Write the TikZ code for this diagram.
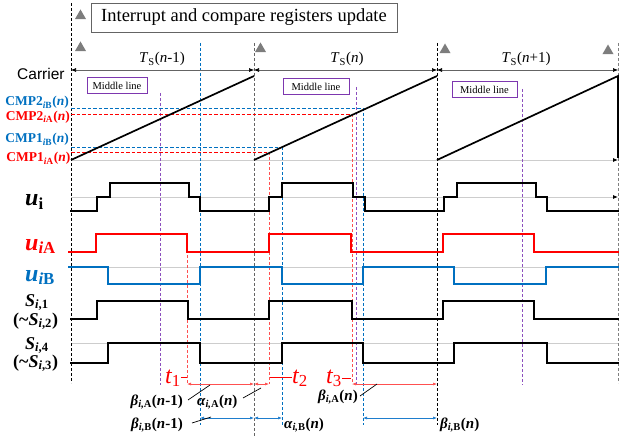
\documentclass[tikz,border=0pt]{standalone}
\usepackage{fontspec}
\setmainfont{Liberation Serif}
\newfontfamily\sansf{Liberation Sans}
\usetikzlibrary{arrows.meta,shapes.geometric}
\definecolor{myred}{RGB}{255,0,0}
\definecolor{myblue}{RGB}{0,112,192}
\definecolor{mypurple}{RGB}{125,55,175}
\definecolor{lpurple}{RGB}{140,80,190}
\definecolor{lred}{RGB}{255,80,80}
\definecolor{lblue}{RGB}{30,125,205}
\definecolor{axisgray}{RGB}{205,205,205}
\definecolor{dgray}{RGB}{100,100,100}
\definecolor{trigray}{RGB}{125,125,125}
\tikzset{
  wave/.style={line width=1.8pt, line join=miter, line cap=rect},
  carrier/.style={line width=1.7pt},
  vdash/.style={line width=0.7pt, dash pattern=on 3pt off 2pt},
  hdash/.style={line width=0.8pt, dash pattern=on 3.5pt off 2pt},
  axisline/.style={axisgray, line width=0.8pt},
  axisarrow/.style={axisgray, line width=0.8pt, -{Latex[length=5pt,width=4pt,black]}},
  per/.style={dgray, line width=0.6pt, {Latex[length=5pt,width=4pt,black]}-{Latex[length=5pt,width=4pt,black]}},
  midbox/.style={draw=mypurple, line width=1pt, inner sep=1pt, minimum height=16pt, font=\fontsize{10.5}{12}\selectfont},
  dimred/.style={lred, line width=0.6pt, {Latex[length=4pt,width=3pt]}-{Latex[length=4pt,width=3pt]}},
  dimblue/.style={lblue, line width=0.6pt, {Latex[length=4pt,width=3pt]}-{Latex[length=4pt,width=3pt]}},
  leader/.style={black, line width=0.7pt},
  tri/.style={regular polygon, regular polygon sides=3, fill=trigray, minimum size=13pt, inner sep=0pt},
  cmplab/.style={anchor=base east, inner sep=0pt, font=\fontsize{13.5}{14}\selectfont\bfseries},
  siglab/.style={anchor=base west, inner sep=0pt, font=\fontsize{18}{18}\selectfont\bfseries\itshape},
  ulab/.style={anchor=base west, inner sep=0pt, font=\fontsize{24}{24}\selectfont\bfseries\itshape},
  tslab/.style={anchor=base, inner sep=0pt, font=\fontsize{15}{15}\selectfont},
  btlab/.style={inner sep=0pt, font=\fontsize{15}{16}\selectfont\bfseries\itshape},
  tlab/.style={anchor=base west, inner sep=0pt, myred, font=\fontsize{24}{24}\selectfont\itshape},
}
\begin{document}
\begin{tikzpicture}[x=1pt,y=-1pt]
\useasboundingbox (0,0) rectangle (620,438);

% ---- light axis lines
\draw[axisarrow] (71,160) -- (618,160);
\draw[axisarrow] (71,197) -- (618,197);
\draw[axisline] (71,267) -- (618,267);
\draw[axisline] (71,343) -- (618,343);

% ---- period boundaries
\draw[vdash, black] (71,3) -- (71,383);
\draw[vdash, dgray] (254,43) -- (254,438);
\draw[vdash, black] (437,43) -- (437,425);
\draw[vdash, gray] (618,43) -- (618,383);

% ---- middle lines
\draw[vdash, lpurple] (160,93) -- (160,385);
\draw[vdash, lpurple] (356,87) -- (356,385);
\draw[vdash, lpurple] (522,89) -- (522,385);

% ---- compare levels
\draw[hdash, myblue] (71,108) -- (363,108);
\draw[hdash, myred] (71,114) -- (352,114);
\draw[hdash, myblue] (71,147) -- (282,147);
\draw[hdash, myred] (71,152) -- (269,152);

% ---- vertical switching instants
\draw[vdash, myblue] (200,43) -- (200,425);
\draw[vdash, myblue] (282,147) -- (282,425);
\draw[vdash, myblue] (363,108) -- (363,425);
\draw[vdash, lred] (187,255) -- (187,384);
\draw[vdash, lred] (269,152) -- (269,384);
\draw[vdash, lred] (352,114) -- (352,384);

% ---- title and triangles
\node[draw=dgray, line width=0.8pt, minimum width=306pt, minimum height=29pt, inner sep=0pt,
      font=\fontsize{18.5}{20}\selectfont] (title) at (244,17.5) {Interrupt and compare registers update};
\node[tri] (tr0) at (80.5,16) {};
\node[tri] (tr1) at (80.5,48) {};
\node[tri] (tr2) at (260.5,49) {};
\node[tri] (tr3) at (445,50) {};
\node[tri] (tr4) at (608,51) {};

% ---- period arrows
\coordinate (p0) at (71,70);
\coordinate (p1) at (254,70);
\coordinate (p2) at (437,70);
\coordinate (p3) at (618,70);
\draw[per] (p0) -- (p1);
\draw[per] (p1) -- (p2);
\draw[per] (p2) -- (p3);
\node[tslab] (ts0) at (162,63) {\textit{T}\textsubscript{S}(\textit{n}-1)};
\node[tslab] (ts1) at (347,63) {\textit{T}\textsubscript{S}(\textit{n})};
\node[tslab] (ts2) at (526,63) {\textit{T}\textsubscript{S}(\textit{n}+1)};

% ---- middle line boxes
\node[midbox, minimum width=60pt] (mb0) at (117,86) {Middle line};
\node[midbox, minimum width=66pt] (mb1) at (316,86.5) {Middle line};
\node[midbox, minimum width=65pt] (mb2) at (484.5,90) {Middle line};

% ---- carrier
\draw[carrier] (71,160) -- (254,76);
\draw[carrier] (254,160) -- (437,76);
\draw[carrier] (437,160) -- (618,76) -- (618,158);

% ---- left labels
\node[anchor=base west, inner sep=0pt, font=\fontsize{15.5}{16}\selectfont\sansf] (carr) at (17,80) {Carrier};
\node[cmplab, myblue] (c2b) at (69,106) {CMP2\textsubscript{\itshape i\upshape B}(\textit{n})};
\node[cmplab, myred] (c2a) at (70,120.5) {CMP2\textsubscript{\itshape i\upshape A}(\textit{n})};
\node[cmplab, myblue] (c1b) at (69,143) {CMP1\textsubscript{\itshape i\upshape B}(\textit{n})};
\node[cmplab, myred] (c1a) at (70.5,162) {CMP1\textsubscript{\itshape i\upshape A}(\textit{n})};

\node[ulab] (lui) at (25,206) {u\textsubscript{\upshape i}};
\node[ulab, myred] (luia) at (25,250) {u\textsubscript{i\upshape A}};
\node[ulab, myblue] (luib) at (25,281) {u\textsubscript{i\upshape B}};
\node[siglab] (ls1) at (25,306) {S\textsubscript{i\upshape,1}};
\node[siglab] (ls2) at (13,325) {\upshape(\textasciitilde\itshape S\textsubscript{i\upshape,2}\upshape)};
\node[siglab] (ls4) at (25,349) {S\textsubscript{i\upshape,4}};
\node[siglab] (ls3) at (13,367) {\upshape(\textasciitilde\itshape S\textsubscript{i\upshape,3}\upshape)};

% ---- waveforms
\draw[wave] (71,211) -| (97,197) -| (110,183) -| (189,197) -| (200,211) -| (269,197) -| (282,183)
  -| (353,197) -| (365,211) -| (444,197) -| (457,183) -| (536,197) -| (547,211) -- (618,211);
\draw[wave, myred] (69,252) -| (96,234) -| (187,252) -| (269,234) -| (351,252) -| (443,234) -| (534,252) -- (618,252);
\draw[wave, myblue] (69,267) -| (108,284) -| (200,267) -| (282,284) -| (363,267) -| (454,284) -| (546,267) -- (618,267);
\draw[wave] (71,319) -| (97,301) -| (188,319) -| (269,301) -| (352,319) -| (443,301) -| (534,319) -- (618,319);
\draw[wave] (71,363) -| (108,343) -| (200,363) -| (282,343) -| (363,363) -| (454,343) -| (547,363) -- (618,363);

% ---- dimension arrows
\coordinate (ra0) at (187,384);
\coordinate (ra1) at (254,384);
\coordinate (ra2) at (269,384);
\coordinate (ra3) at (352,384);
\coordinate (ra4) at (437,384);
\draw[dimred] (ra0) -- (ra1);
\draw[dimred] (ra1) -- (ra2);
\draw[dimred] (ra3) -- (ra4);
\coordinate (ba0) at (200,418);
\coordinate (ba1) at (254,418);
\coordinate (ba2) at (282,418);
\coordinate (ba3) at (363,418);
\coordinate (ba4) at (437,418);
\draw[dimblue] (ba0) -- (ba1);
\draw[dimblue] (ba1) -- (ba2);
\draw[dimblue] (ba3) -- (ba4);

% ---- t labels
\node[tlab] (t1) at (165,383) {t\textsubscript{\upshape 1}};
\node[tlab] (t2) at (292,383) {t\textsubscript{\upshape 2}};
\node[tlab] (t3) at (326,383) {t\textsubscript{\upshape 3}};
\coordinate (t1e) at (187,377);
\coordinate (t2s) at (270,377);
\coordinate (t3e) at (351,378);
\draw[myred, line width=0.7pt] (t1.east |- t1e) -- (t1e);
\draw[myred, line width=0.7pt] (t2s) -- (t2.west |- t2s);
\draw[myred, line width=0.7pt] (t3.east |- t3e) -- (t3e);

% ---- bottom labels
\node[btlab, anchor=base east] (bA0) at (183,405) {β\textsubscript{i,\upshape A}\upshape(\textit{n}-1)};
\node[btlab, anchor=base west] (aA1) at (197,405) {α\textsubscript{i,\upshape A}\upshape(\textit{n})};
\node[btlab, anchor=base east] (bB0) at (183,428) {β\textsubscript{i,\upshape B}\upshape(\textit{n}-1)};
\node[btlab, anchor=base west] (aB1) at (284,428) {α\textsubscript{i,\upshape B}\upshape(\textit{n})};
\node[btlab, anchor=base east] (bA1) at (358,400) {β\textsubscript{i,\upshape A}\upshape(\textit{n})};
\node[btlab, anchor=base west] (bB1) at (440,428) {β\textsubscript{i,\upshape B}\upshape(\textit{n})};
\coordinate (l1) at (210,385);
\coordinate (l2) at (261,388);
\coordinate (l3) at (211,417);
\coordinate (l4) at (377,384);
\draw[leader] (188,400) -- (l1);
\draw[leader] (243,398) -- (l2);
\draw[leader] (192,423) -- (l3);
\draw[leader] (360,396) -- (l4);
\end{tikzpicture}
\end{document}
